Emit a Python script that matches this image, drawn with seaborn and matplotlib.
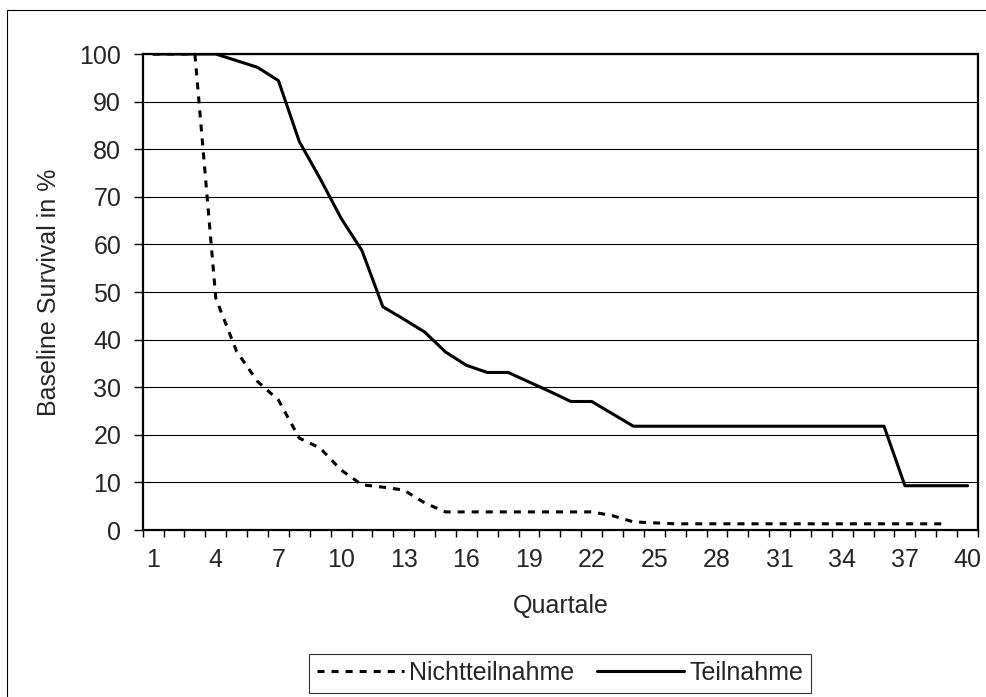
import numpy as np
import pandas as pd
import matplotlib
matplotlib.use("Agg")
import matplotlib.pyplot as plt
from matplotlib.lines import Line2D
import seaborn as sns

# Quartale 1..40
quartale = list(range(1, 41))

# Baseline survival (%)
nichtteilnahme = [100, 100, 100, 48.7, 37.5, 31.2, 27.3, 19.3, 17.2, 12.6,
                  9.5, 9.0, 8.4, 5.7, 3.8, 3.8, 3.8, 3.8, 3.8, 3.8,
                  3.8, 3.8, 3.0, 1.7, 1.5, 1.3, 1.3, 1.3, 1.3, 1.3,
                  1.3, 1.3, 1.3, 1.3, 1.3, 1.3, 1.3, 1.3, 1.3, np.nan]
teilnahme = [100, 100, 100, 100, 98.6, 97.2, 94.4, 81.6, 73.8, 65.5,
             58.7, 46.9, 44.3, 41.6, 37.4, 34.6, 33.1, 33.1, 31.1, 29.1,
             27.0, 27.0, 24.4, 21.8, 21.8, 21.8, 21.8, 21.8, 21.8, 21.8,
             21.8, 21.8, 21.8, 21.8, 21.8, 21.8, 9.3, 9.3, 9.3, 9.3]

xtick_labels = [str(q) for q in range(1, 41, 3)]
ytick_values = list(range(0, 101, 10))

df = pd.DataFrame({"Quartal": quartale,
                   "Nichtteilnahme": nichtteilnahme,
                   "Teilnahme": teilnahme})

sns.set_theme(style="white")
plt.rcParams["font.family"] = ["Liberation Sans", "DejaVu Sans"]
FS = 18

fig = plt.figure(figsize=(9.87, 6.97), dpi=100)
W, H = 987, 697
left, right, top, bottom = 142.7, 978, 54, 530
ax = fig.add_axes([left / W, 1 - bottom / H, (right - left) / W, (bottom - top) / H])

sns.lineplot(data=df, x="Quartal", y="Nichtteilnahme", ax=ax, color="black",
             linewidth=2.2, linestyle=(0, (2.3, 2.3)), label="Nichtteilnahme")
sns.lineplot(data=df, x="Quartal", y="Teilnahme", ax=ax, color="black",
             linewidth=2.2, label="Teilnahme")

ax.set_xlim(0.5, 40.5)
ax.set_ylim(0, 100)

# category axis: ticks between categories, labels every 3rd
ax.set_xticks(np.arange(0.5, 41, 1), minor=True)
ax.set_xticks(range(1, 41, 3))
ax.set_xticklabels(xtick_labels, fontsize=FS)
ax.tick_params(axis="x", which="major", length=0, pad=13)
ax.tick_params(axis="x", which="minor", bottom=True, length=5, width=1, color="black", direction="out")

ax.set_yticks(ytick_values)
ax.set_yticklabels([str(v) for v in ytick_values], fontsize=FS)
ax.tick_params(axis="y", left=True, length=6.5, width=1, color="black", direction="out", pad=9)

ax.yaxis.grid(True, color="black", linewidth=0.8)
ax.xaxis.grid(False)
ax.set_axisbelow(True)
for sp in ax.spines.values():
    sp.set_color("black")
    sp.set_linewidth(1.6)

ax.set_xlabel("Quartale", fontsize=FS, va="center")
ax.xaxis.set_label_coords(0.5, (bottom - 606) / (bottom - top))
ax.set_ylabel("Baseline Survival in %", fontsize=FS, va="center")
ax.yaxis.set_label_coords((49 - left) / (right - left), 0.5)

ax.get_legend().remove()
handles, labels = ax.get_legend_handles_labels()
leg = fig.legend(handles, labels, loc="center", ncol=2, fontsize=FS,
                 bbox_to_anchor=(560 / W, 1 - 673 / H), frameon=True, fancybox=False,
                 handlelength=3.5, handletextpad=0.2, columnspacing=0.9,
                 borderpad=0.3, borderaxespad=0)
leg.get_frame().set_edgecolor("black")
leg.get_frame().set_linewidth(0.8)

# chart area border (only left and top edges visible)
fig.add_artist(Line2D([7.5 / W, 7.5 / W], [0, 1 - 10 / H], color="black", linewidth=0.8,
                      transform=fig.transFigure))
fig.add_artist(Line2D([7.5 / W, 1], [1 - 10 / H, 1 - 10 / H], color="black", linewidth=0.8,
                      transform=fig.transFigure))

fig.savefig("out.png", dpi=100)
